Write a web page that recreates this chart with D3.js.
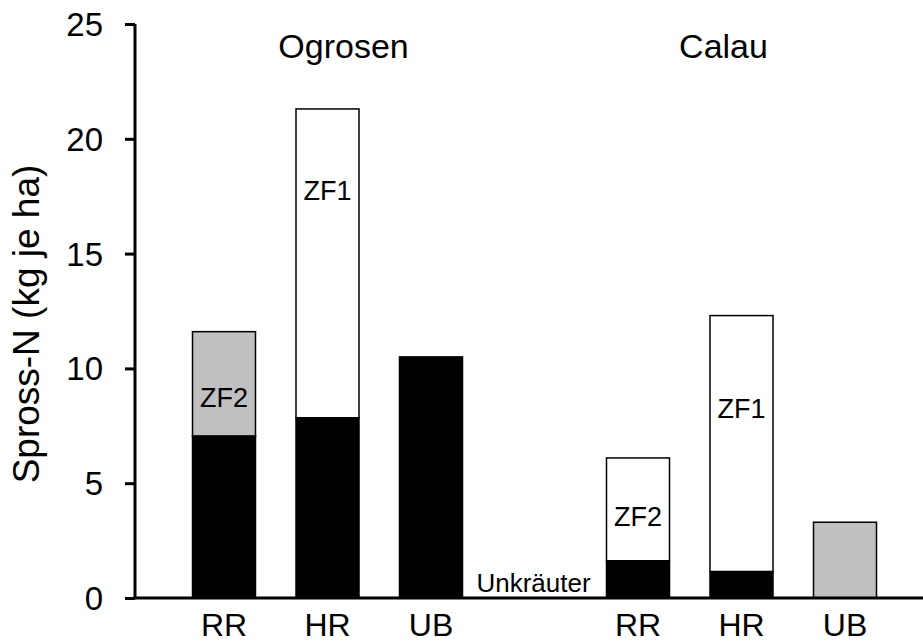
<!DOCTYPE html>
<html>
<head>
<meta charset="utf-8">
<script src="https://cdn.jsdelivr.net/npm/d3@7"></script>
<style>
  html, body { margin: 0; padding: 0; background: #fff; }
  svg { display: block; font-family: "Liberation Sans", Arial, sans-serif; }
</style>
</head>
<body>
<svg id="chart" width="923" height="641"></svg>
<script>
// ---- data ----
const slots = ["O-RR", "O-HR", "O-UB", "gap", "C-RR", "C-HR", "C-UB"];
const categoryLabels = ["RR", "HR", "UB", "", "RR", "HR", "UB"];
const weeds = [7.05, 7.85, 10.5, 0, 1.62, 1.15, 0];          // black segment (Unkräuter)
const totals = [11.6, 21.3, 10.5, 0, 6.1, 12.3, 3.3];         // bar tops
const upperFill = ["#c0c0c0", "#ffffff", "#000000", "none", "#ffffff", "#ffffff", "#c0c0c0"];
const yTicks = [0, 5, 10, 15, 20, 25];
const groups = [{ name: "Ogrosen", slot: "O-HR", dx: 16 }, { name: "Calau", slot: "C-HR", dx: -18 }];
const annotations = [
  { slot: "O-RR", text: "ZF2", at: 8.3 },
  { slot: "O-HR", text: "ZF1", at: 17.35 },
  { slot: "C-RR", text: "ZF2", at: 3.13 },
  { slot: "C-HR", text: "ZF1", at: 7.85 }
];
const weedLabel = { slot: "gap", text: "Unkräuter", at: 0.27 };

// ---- layout ----
const svg = d3.select("#chart");
const axisX = 135, axisY0 = 598, axisYTop = 24, axisRight = 923;
const barW = 63;

const x = d3.scalePoint().domain(slots).range([224, 845]);
const y = d3.scaleLinear().domain([0, 25]).range([axisY0, axisYTop]);

// bars
const bars = slots.map((s, i) => ({ s, weed: weeds[i], total: totals[i], fill: upperFill[i] }))
  .filter(d => d.total > 0);

// upper segment
svg.selectAll("rect.upper").data(bars.filter(d => d.total > d.weed)).enter()
  .append("rect")
  .attr("x", d => x(d.s) - barW / 2)
  .attr("width", barW)
  .attr("y", d => y(d.total))
  .attr("height", d => y(d.weed) - y(d.total))
  .attr("fill", d => d.fill)
  .attr("stroke", "#000")
  .attr("stroke-width", 1.5);

// weed segment
svg.selectAll("rect.weed").data(bars.filter(d => d.weed > 0)).enter()
  .append("rect")
  .attr("x", d => x(d.s) - barW / 2)
  .attr("width", barW)
  .attr("y", d => y(d.weed))
  .attr("height", d => y(0) - y(d.weed))
  .attr("fill", "#000")
  .attr("stroke", "#000")
  .attr("stroke-width", 1.5);

// y axis
const yAxis = d3.axisLeft(y).tickValues(yTicks).tickSize(10).tickPadding(22).tickFormat(d3.format("d"));
const gy = svg.append("g").attr("transform", `translate(${axisX},0)`).call(yAxis);
gy.select(".domain").attr("d", `M0,${axisYTop}V${axisY0}`).attr("stroke", "#000").attr("stroke-width", 3);
gy.selectAll(".tick line").attr("stroke", "#000").attr("stroke-width", 3);
gy.selectAll(".tick text").attr("font-size", 33).attr("fill", "#000")
  .attr("font-family", "Liberation Sans, Arial, sans-serif").attr("dy", "0.35em");

// x axis line
svg.append("line")
  .attr("x1", axisX - 1.5).attr("x2", axisRight)
  .attr("y1", y(0)).attr("y2", y(0))
  .attr("stroke", "#000").attr("stroke-width", 3);

// category labels
svg.selectAll("text.cat").data(slots.map((s, i) => ({ s, t: categoryLabels[i] })).filter(d => d.t)).enter()
  .append("text")
  .attr("x", d => x(d.s))
  .attr("y", 636)
  .attr("text-anchor", "middle")
  .attr("font-size", 32)
  .text(d => d.t);

// group labels
svg.selectAll("text.grp").data(groups).enter()
  .append("text")
  .attr("x", d => x(d.slot) + d.dx)
  .attr("y", 58)
  .attr("text-anchor", "middle")
  .attr("font-size", 34)
  .text(d => d.name);

// annotations
svg.selectAll("text.ann").data(annotations).enter()
  .append("text")
  .attr("x", d => x(d.slot))
  .attr("y", d => y(d.at))
  .attr("text-anchor", "middle")
  .attr("font-size", 27)
  .text(d => d.text);

svg.append("text")
  .attr("x", x(weedLabel.slot) - 1)
  .attr("y", y(weedLabel.at))
  .attr("text-anchor", "middle")
  .attr("font-size", 26)
  .text(weedLabel.text);

// y title
svg.append("text")
  .attr("transform", `translate(39,324) rotate(-90)`)
  .attr("text-anchor", "middle")
  .attr("font-size", 37)
  .text("Spross-N (kg je ha)");
</script>
</body>
</html>
